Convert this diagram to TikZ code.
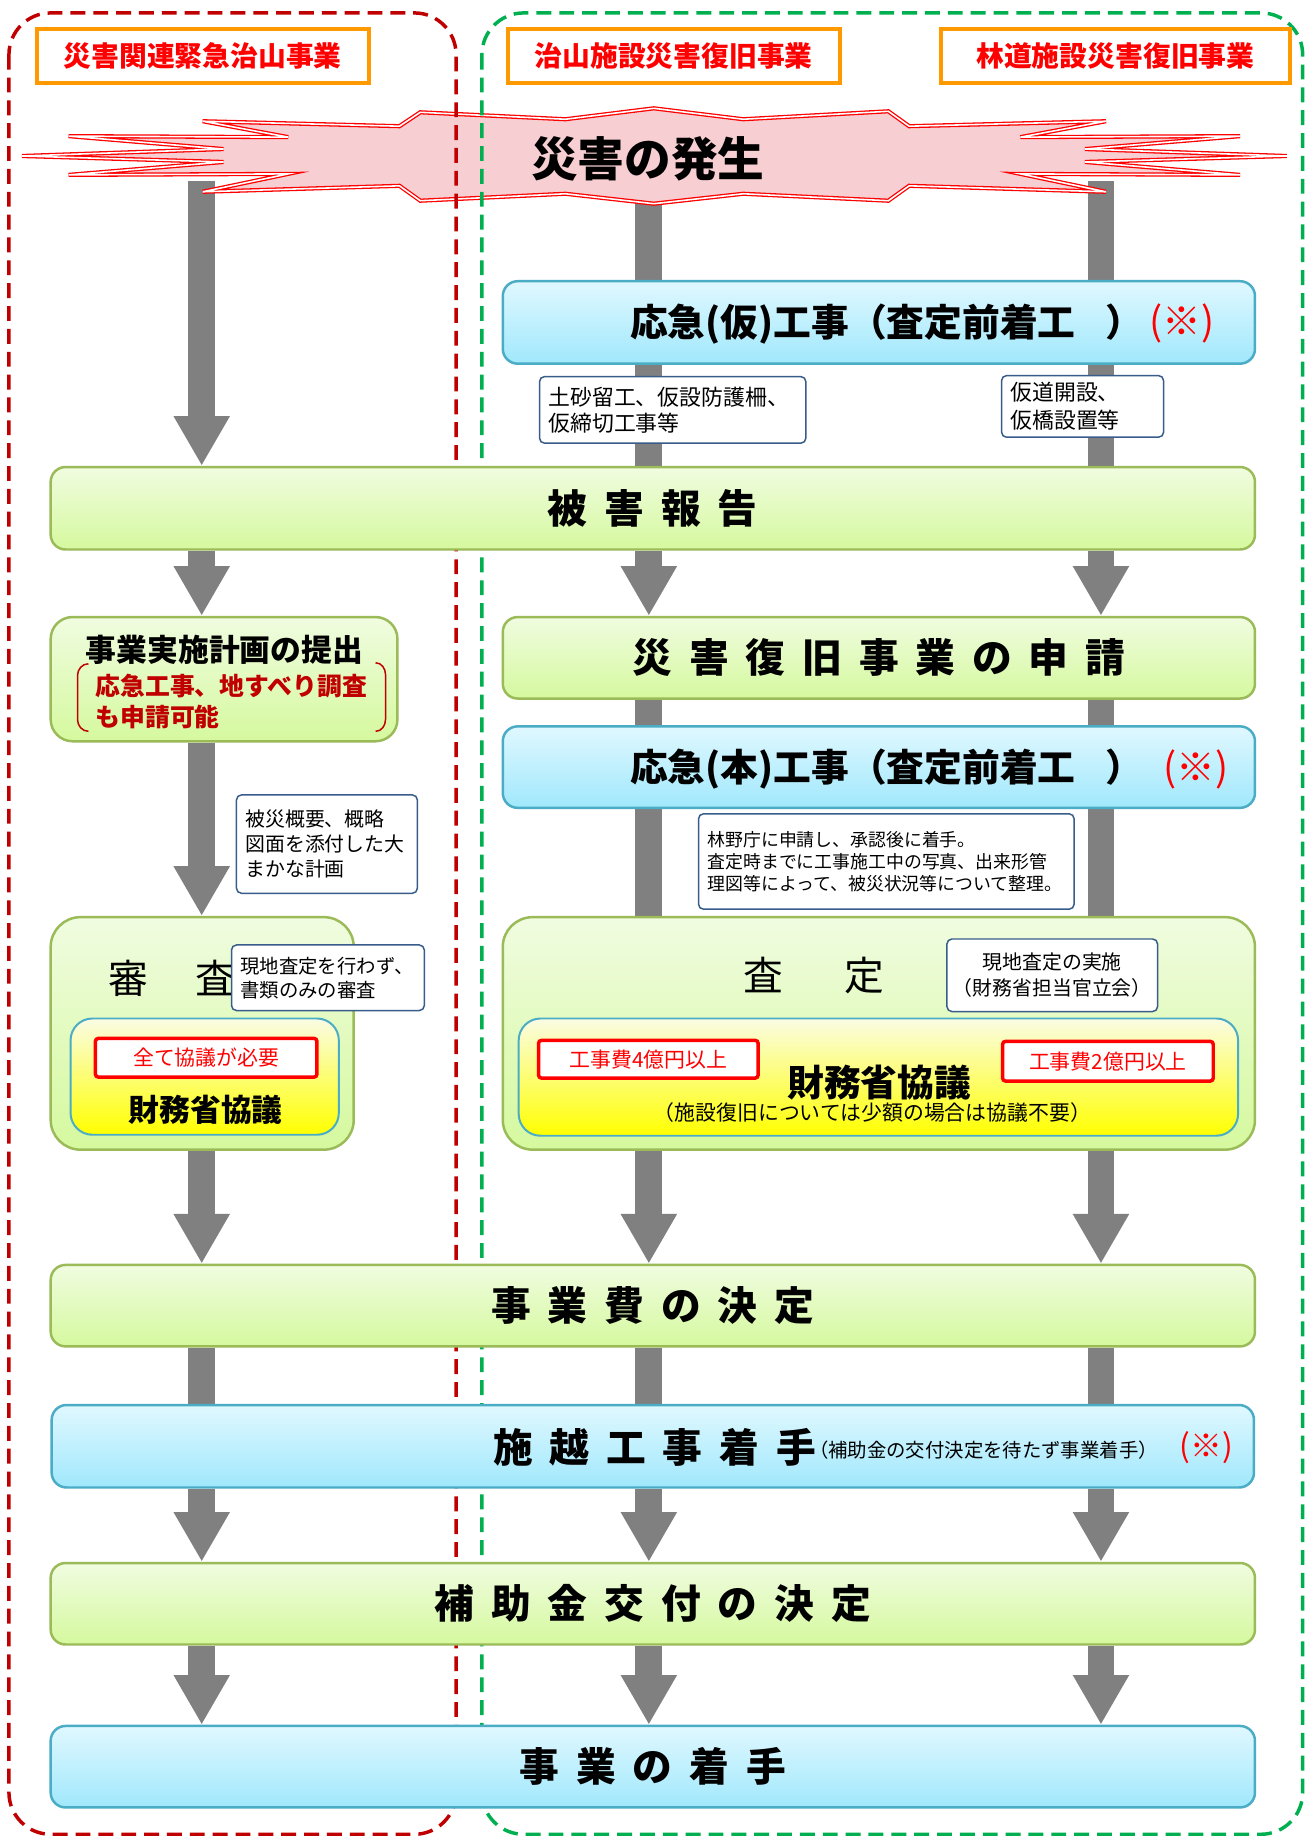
\documentclass[tikz,border=0pt]{standalone}
\usepackage{fontspec}
\setmainfont{Noto Sans CJK JP}
\usetikzlibrary{arrows.meta,positioning}

\definecolor{framered}{RGB}{192,0,0}
\definecolor{framegreen}{RGB}{0,176,80}
\definecolor{labelorange}{RGB}{255,153,0}
\definecolor{darkred}{RGB}{192,0,0}
\definecolor{arrowgray}{RGB}{128,128,128}
\definecolor{noteline}{RGB}{56,93,138}
\definecolor{greenline}{RGB}{155,187,89}
\definecolor{greentop}{RGB}{240,252,224}
\definecolor{greenbot}{RGB}{213,249,158}
\definecolor{blueline}{RGB}{75,172,198}
\definecolor{bluetop}{RGB}{224,248,255}
\definecolor{bluebot}{RGB}{160,232,252}
\definecolor{yellowtop}{RGB}{250,252,228}
\definecolor{burstfill}{RGB}{247,206,209}

\pgfdeclarelayer{bg}
\pgfdeclarelayer{arrows}
\pgfdeclarelayer{burst}
\pgfdeclarelayer{frames}
\pgfsetlayers{bg,arrows,burst,frames,main}

\newcommand{\tsp}{\hspace{17pt}}
\newcommand{\fsz}[2]{\fontsize{#1pt}{#2pt}\selectfont}

\begin{document}
\begin{tikzpicture}[x=1pt,y=-1pt,
		greenbox/.style={draw=greenline,line width=2.5pt,rounded corners=15pt,top color=greentop,bottom color=greenbot,inner sep=0pt},
		bluebox/.style={draw=blueline,line width=2.5pt,rounded corners=15pt,top color=bluetop,bottom color=bluebot,inner sep=0pt},
		yellowbox/.style={draw=blueline,line width=2pt,rounded corners=22pt,top color=yellowtop,bottom color=yellow,inner sep=0pt},
		notebox/.style={draw=noteline,line width=1.5pt,rounded corners=5pt,fill=white,inner xsep=9pt,inner ysep=0pt,align=left},
		redbox/.style={draw=red,line width=3.5pt,rounded corners=3pt,fill=white,text=red,inner sep=0pt,font=\fsz{21}{21}},
		labelbox/.style={draw=labelorange,line width=4pt,fill=white,text=red,inner sep=0pt,minimum height=55pt,font=\fsz{28}{28}\bfseries},
		title/.style={inner sep=0pt,font=\fsz{40}{40}\bfseries},
		garrow/.style={draw=arrowgray,line width=27pt,-{Triangle[length=50pt,width=53pt]}},
		gshaft/.style={draw=arrowgray,line width=27pt},
		frame/.style={line width=3.5pt,dash pattern=on 15pt off 8pt,rounded corners=42pt}]

		\begin{pgfonlayer}{bg}
		\path[use as bounding box,fill=white] (0,0) rectangle (1317,1836);
		\end{pgfonlayer}

		\coordinate (cL) at (203,0);
		\coordinate (cM) at (653,0);
		\coordinate (cR) at (1108,0);

		% project names
		\node[labelbox,minimum width=334pt] (lab1) at (204,56.5) {災害関連緊急治山事業};
		\node[labelbox,minimum width=334pt] (lab2) at (678,56.5) {治山施設災害復旧事業};
		\node[labelbox,minimum width=351pt] (lab3) at (1122.5,56.5) {林道施設災害復旧事業};

		% disaster burst
		\begin{pgfonlayer}{burst}
		\draw[draw=red,double=white,line width=1.3pt,double distance=1.6pt,fill=burstfill]
			(22,157) -- (225,150) -- (69,137) -- (290,138) -- (204,122) -- (402,127) -- (423,113)
			-- (569,120) -- (658,109) -- (748,120) -- (894,112) -- (915,127) -- (1113,122)
			-- (1027,138) -- (1248,137) -- (1092,150) -- (1295,157) -- (1092,163) -- (1248,176)
			-- (1027,175) -- (1113,193) -- (915,187) -- (894,202) -- (748,195) -- (658,205)
			-- (569,195) -- (423,202) -- (402,187) -- (204,193) -- (290,175) -- (69,176)
			-- (225,163) -- cycle;
		\node[inner sep=0pt,font=\fsz{47}{47}\bfseries] (hassei) at (652,160) {災害の発生};
		\end{pgfonlayer}

		\node[bluebox,minimum width=757pt,minimum height=83pt] (kari) at (884.5,324.5) {};
		\node[anchor=west,inner sep=0pt,font=\fsz{38}{38}\bfseries] (karit) at (634,326) {応急(仮)工事（査定前着工\hspace{30pt}）};
		\node[anchor=west,inner sep=0pt,text=red,font=\fsz{39}{39}] (karim) at (1157,326) {(※)};
		\node[notebox,text width=250pt,minimum height=67pt,font=\fsz{22}{26}] (dosha) at (677,412.5) {土砂留工、仮設防護柵、\\仮締切工事等};
		\node[notebox,text width=145pt,minimum height=62pt,font=\fsz{22}{28}] (karido) at (1089.5,409) {仮道開設、\\仮橋設置等};

		\node[greenbox,title,minimum width=1212pt,minimum height=83pt] (higai) at (657,511.5) {被\tsp 害\tsp 報\tsp 告};

		\node[greenbox,rounded corners=22pt,minimum width=349pt,minimum height=125pt] (keikaku) at (225.5,683.5) {};
		\node[inner sep=0pt,font=\fsz{31}{31}\bfseries] (keikakut) at (226,654) {事業実施計画の提出};
		\node[anchor=west,align=left,inner sep=0pt,text=darkred,font=\fsz{25}{32}\bfseries] (keikakur) at (96,706) {応急工事、地すべり調査\\も申請可能};
		\draw[darkred,line width=1.5pt] (89,668) to[out=180,in=90] (78,680) -- (78,724) to[out=-90,in=180] (89,736);
		\draw[darkred,line width=1.5pt] (378,667) to[out=0,in=90] (388,679) -- (388,724) to[out=-90,in=0] (378,736);

		\node[greenbox,title,minimum width=757pt,minimum height=82pt] (shinsei) at (884.5,662) {災\tsp 害\tsp 復\tsp 旧\tsp 事\tsp 業\tsp の\tsp 申\tsp 請};
		\node[bluebox,minimum width=757pt,minimum height=82pt] (hon) at (884.5,772) {};
		\node[anchor=west,inner sep=0pt,font=\fsz{38}{38}\bfseries] (hont) at (634,774) {応急(本)工事（査定前着工\hspace{30pt}）};
		\node[anchor=west,inner sep=0pt,text=red,font=\fsz{39}{39}] (honm) at (1171,774) {(※)};

		\node[notebox,text width=164pt,minimum height=99pt,font=\fsz{20}{25}] (gaiyo) at (329,849.5) {被災概要、概略\\図面を添付した大\\まかな計画};
		\node[notebox,text width=360pt,minimum height=96pt,font=\fsz{18}{22}] (rinya) at (892,867) {林野庁に申請し、承認後に着手。\\査定時までに工事施工中の写真、出来形管\\理図等によって、被災状況等について整理。};

		% examination
		\node[greenbox,rounded corners=30pt,minimum width=305pt,minimum height=234pt] (shinsa) at (203.5,1040) {};
		\node[inner sep=0pt,font=\fsz{40}{40}] (shinsat) at (173,985) {審\hspace{47pt}査};
		\node[yellowbox,minimum width=270pt,minimum height=117pt] (kyogiL) at (206,1083.5) {};
		\node[redbox,minimum width=223pt,minimum height=39pt] (zenbu) at (207.5,1064.5) {全て協議が必要};
		\node[inner sep=0pt,font=\fsz{31}{31}\bfseries] (kyogiLt) at (207,1117) {財務省協議};
		\node[notebox,text width=176pt,minimum height=66pt,font=\fsz{19.5}{24}] (genchi1) at (330,984) {現地査定を行わず、\\書類のみの審査};

		\node[greenbox,rounded corners=30pt,minimum width=757pt,minimum height=234pt] (satei) at (884.5,1040) {};
		\node[inner sep=0pt,font=\fsz{40}{40}] (sateit) at (819,982) {査\hspace{61pt}定};
		\node[notebox,align=center,inner xsep=6pt,text width=200pt,minimum height=73pt,font=\fsz{20}{26}] (genchi2) at (1059,981.5) {現地査定の実施\\（財務省担当官立会）};
		\node[yellowbox,minimum width=724pt,minimum height=118pt] (kyogiR) at (884,1084) {};
		\node[redbox,minimum width=221pt,minimum height=38pt] (oku4) at (652.5,1066) {工事費4億円以上};
		\node[redbox,minimum width=212pt,minimum height=40pt] (oku2) at (1115,1068) {工事費2億円以上};
		\node[inner sep=0pt,font=\fsz{37}{37}\bfseries] (kyogiRt) at (885,1089) {財務省協議};
		\node[inner sep=0pt,font=\fsz{21}{21}] (fuyo) at (878,1120) {（施設復旧については少額の場合は協議不要）};

		\node[greenbox,title,minimum width=1212pt,minimum height=82pt] (jigyohi) at (657,1314) {事\tsp 業\tsp 費\tsp の\tsp 決\tsp 定};
		\node[bluebox,minimum width=1210pt,minimum height=83pt] (sekou) at (657,1455.5) {};
		\node[title,anchor=west] (sekout) at (496,1457) {施\tsp 越\tsp 工\tsp 事\tsp 着\tsp 手};
		\node[anchor=west,inner sep=0pt,font=\fsz{19.5}{19.5}] (sekous) at (814,1459) {（補助金の交付決定を待たず事業着手）};
		\node[anchor=west,inner sep=0pt,text=red,font=\fsz{32}{32}] (sekoum) at (1187,1457) {(※)};
		\node[greenbox,title,minimum width=1212pt,minimum height=82pt] (hojo) at (657,1614) {補\tsp 助\tsp 金\tsp 交\tsp 付\tsp の\tsp 決\tsp 定};
		\node[bluebox,title,minimum width=1212pt,minimum height=82pt] (chakushu) at (657,1778) {事\tsp 業\tsp の\tsp 着\tsp 手};

		% dashed frames
		\begin{pgfonlayer}{frames}
		\draw[frame,framered] (9,13) rectangle (459,1846);
		\draw[frame,framegreen] (485,13) rectangle (1311,1846);
		\end{pgfonlayer}

		% gray flow arrows
		\begin{pgfonlayer}{arrows}
		\draw[garrow] (hassei.south -| cL) -- (higai.north -| cL);
		\draw[garrow] (higai.south -| cL) -- (keikaku.north -| cL);
		\draw[garrow] (keikaku.south -| cL) -- (shinsa.north -| cL);
		\draw[garrow] (shinsa.south -| cL) -- (jigyohi.north -| cL);
		\foreach \c in {cM,cR}{
			\draw[gshaft] (hassei.south -| \c) -- (kari.north -| \c);
			\draw[gshaft] (kari.south -| \c) -- (higai.north -| \c);
			\draw[garrow] (higai.south -| \c) -- (shinsei.north -| \c);
			\draw[gshaft] (shinsei.south -| \c) -- (hon.north -| \c);
			\draw[gshaft] (hon.south -| \c) -- (satei.north -| \c);
			\draw[garrow] (satei.south -| \c) -- (jigyohi.north -| \c);
		}
		\foreach \c in {cL,cM,cR}{
			\draw[gshaft] (jigyohi.south -| \c) -- (sekou.north -| \c);
			\draw[garrow] (sekou.south -| \c) -- (hojo.north -| \c);
			\draw[garrow] (hojo.south -| \c) -- (chakushu.north -| \c);
		}
		\end{pgfonlayer}

\end{tikzpicture}
\end{document}
